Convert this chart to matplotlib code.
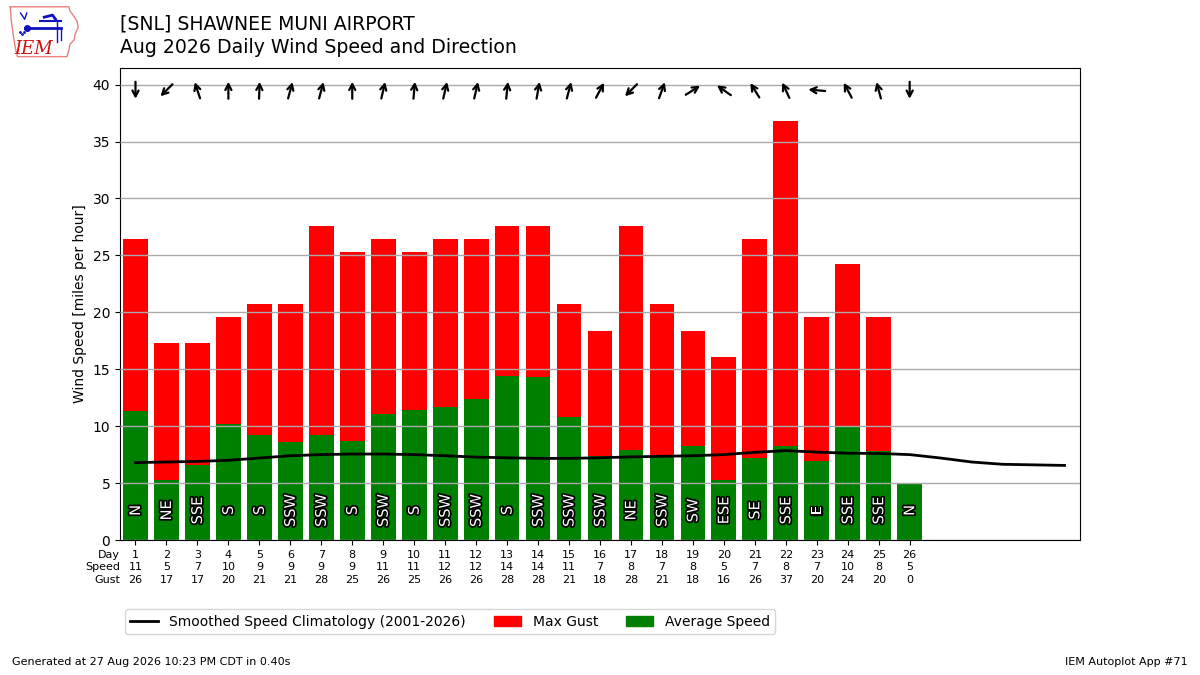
import numpy as np
import matplotlib
matplotlib.use('Agg')
import matplotlib.pyplot as plt
import matplotlib.patheffects as PathEffects
from matplotlib.transforms import ScaledTranslation
from matplotlib.patches import Patch
from matplotlib.lines import Line2D

days = list(range(1, 27))
avg_speed = [11.3, 5.3, 6.6, 10.2, 9.2, 8.6, 9.2, 8.7, 11.1, 11.4, 11.7, 12.4, 14.4,
             14.3, 10.8, 7.4, 7.9, 7.4, 8.3, 5.3, 7.2, 8.3, 6.9, 9.9, 7.8, 4.9]
max_gust = [26.4, 17.3, 17.3, 19.6, 20.7, 20.7, 27.6, 25.3, 26.4, 25.3, 26.4, 26.4, 27.6,
            27.6, 20.7, 18.4, 27.6, 20.7, 18.4, 16.1, 26.4, 36.8, 19.6, 24.2, 19.6, 0.0]
dir_deg = [0, 45, 162, 180, 182, 195, 195, 180, 193, 185, 193, 193, 186,
           190, 195, 208, 45, 200, 238, 125, 148, 155, 95, 152, 165, 0]
dir_text = ['N', 'NE', 'SSE', 'S', 'S', 'SSW', 'SSW', 'S', 'SSW', 'S', 'SSW', 'SSW', 'S',
            'SSW', 'SSW', 'SSW', 'NE', 'SSW', 'SW', 'ESE', 'SE', 'SSE', 'E', 'SSE', 'SSE', 'N']

clim_days = list(range(1, 32))
clim_speed = [6.8, 6.85, 6.9, 7.0, 7.2, 7.4, 7.5, 7.55, 7.55, 7.5, 7.4, 7.28, 7.22, 7.17,
              7.17, 7.22, 7.3, 7.35, 7.4, 7.5, 7.7, 7.85, 7.72, 7.62, 7.6, 7.5, 7.2,
              6.85, 6.65, 6.6, 6.55]

fig = plt.figure(figsize=(12, 6.75), dpi=100)
ax = fig.add_axes([0.1, 0.2, 0.8, 0.7])

ax.bar(days, max_gust, width=0.8, color='r', zorder=1)
ax.bar(days, avg_speed, width=0.8, color='g', zorder=1)
ax.plot(clim_days, clim_speed, color='k', lw=2, zorder=4)

for d, t in zip(days, dir_text):
    txt = ax.text(d, 2.6, t, rotation=90, ha='center', va='center', color='white',
                  fontsize=10.5, zorder=5)
    txt.set_path_effects([PathEffects.withStroke(linewidth=2.5, foreground='k')])

# wind direction arrows, pointing where the wind blows to
half = 6.1 / 72.0
for d, deg in zip(days, dir_deg):
    rad = np.radians(deg)
    vx, vy = -np.sin(rad) * half, -np.cos(rad) * half
    head = ax.transData + ScaledTranslation(vx, vy, fig.dpi_scale_trans)
    tail = ax.transData + ScaledTranslation(-vx, -vy, fig.dpi_scale_trans)
    ax.annotate('', xy=(d, 39.5), xycoords=head, xytext=(d, 39.5), textcoords=tail,
                arrowprops=dict(arrowstyle='->,head_length=0.42,head_width=0.22',
                                lw=1.6, color='k', shrinkA=0, shrinkB=0), zorder=5)

ax.set_xlim(0.5, 31.5)
ax.set_ylim(0, 41.5)
ax.set_yticks(range(0, 41, 5))
ax.yaxis.grid(True, color='#aaaaaa', lw=1, zorder=3)
ax.set_axisbelow(False)
ax.set_xticks(days)
ax.set_xticklabels(['%d\n%.0f\n%.0f' % (d, s, g) for d, s, g in zip(days, avg_speed, max_gust)],
                   fontsize=8, linespacing=1.32)
ax.text(0.0, -0.021, 'Day\nSpeed\nGust', transform=ax.transAxes, ha='right', va='top',
        fontsize=8, linespacing=1.32)
ax.set_ylabel('Wind Speed [miles per hour]')

fig.text(0.1, 0.965, '[SNL] SHAWNEE MUNI AIRPORT', fontsize=13.6, va='center')
fig.text(0.1, 0.929, 'Aug 2026 Daily Wind Speed and Direction', fontsize=13.6, va='center')

handles = [Line2D([], [], color='k', lw=2, label='Smoothed Speed Climatology (2001-2026)'),
           Patch(color='r', label='Max Gust'),
           Patch(color='g', label='Average Speed')]
fig.legend(handles=handles, loc='center', bbox_to_anchor=(0.375, 0.079), ncol=3,
           fontsize=10)

fig.text(0.01, 0.015, 'Generated at 27 Aug 2026 10:23 PM CDT in 0.40s', fontsize=8)
fig.text(0.99, 0.015, 'IEM Autoplot App #71', fontsize=8, ha='right')

# rough IEM logo
lax = fig.add_axes([0.006, 0.913, 0.06, 0.08])
lax.set_xlim(0, 70)
lax.set_ylim(0, 52)
lax.axis('off')
ox = [3, 60, 61, 64, 68, 69, 66, 65, 61, 60, 58, 10, 8, 6, 4, 3]
oy = [50, 50, 46, 42, 36, 30, 24, 18, 14, 8, 2, 2, 10, 22, 36, 50]
lax.plot(ox, oy, color='#e88080', lw=1)
lax.plot([17, 52], [30, 30], color='#1010c0', lw=2)
lax.plot([32, 52], [36, 36], color='#1010c0', lw=1.5)
lax.plot([36, 44, 47], [40, 42, 38], color='#1010c0', lw=2)
lax.plot([13, 17, 19], [44, 38, 44], color='#1010c0', lw=1)
lax.plot([48, 48], [36, 16], color='#1010c0', lw=1)
lax.plot([52, 52], [28, 18], color='#1010c0', lw=1)
lax.plot(19, 30, 'o', color='#1010c0', ms=4)
lax.plot([12, 14, 16], [26, 24, 26], '.', color='#1010c0', ms=2)
lax.text(26, 5, 'IEM', color='#d01010', fontsize=13, family='serif', style='italic',
         ha='center')

fig.savefig('out.png', dpi=100)
